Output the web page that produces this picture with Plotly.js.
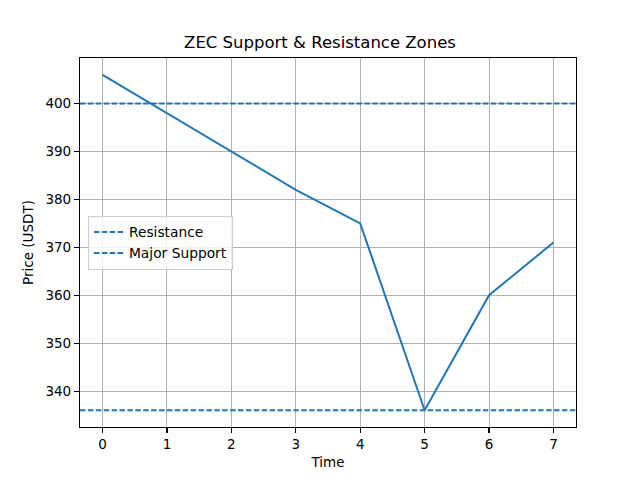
<!DOCTYPE html>
<html>
<head>
<meta charset="utf-8">
<script src="https://cdn.plot.ly/plotly-3.0.1.min.js"></script>
<style>html,body{margin:0;padding:0;background:#fff;}#chart{width:640px;height:480px;}</style>
</head>
<body>
<div id="chart"></div>
<script>
const timeSteps = [0, 1, 2, 3, 4, 5, 6, 7];
const prices = [406, 398, 390, 382, 375, 336, 360, 371];
const resistanceLevel = 400;
const majorSupportLevel = 336;
const levelNames = ["Resistance", "Major Support"];

const blue = "#1f77b4";
const xMin = Math.min(...timeSteps), xMax = Math.max(...timeSteps);
const xPad = (xMax - xMin) * 0.05;
const xRange = [xMin - xPad, xMax + xPad];
const allY = prices.concat([resistanceLevel, majorSupportLevel]);
const yMin = Math.min(...allY), yMax = Math.max(...allY);
const yPad = (yMax - yMin) * 0.05;
const yRange = [yMin - yPad, yMax + yPad];

const dash = "5.5px,2.4px";
const traces = [
  {x: timeSteps, y: prices, type: "scatter", mode: "lines", line: {color: blue, width: 2}, showlegend: false},
  {x: xRange, y: [resistanceLevel, resistanceLevel], type: "scatter", mode: "lines", name: levelNames[0], line: {color: blue, width: 2, dash: dash}},
  {x: xRange, y: [majorSupportLevel, majorSupportLevel], type: "scatter", mode: "lines", name: levelNames[1], line: {color: blue, width: 2, dash: dash}}
];

const tickFont = {family: "DejaVu Sans", size: 13.5, color: "#000"};
const layout = {
  width: 640, height: 480,
  margin: {l: 80, r: 64, t: 58, b: 53, pad: 0},
  paper_bgcolor: "#fff", plot_bgcolor: "#fff",
  font: {family: "DejaVu Sans", color: "#000"},
  title: {text: "ZEC Support & Resistance Zones", font: {family: "DejaVu Sans", size: 16.5, color: "#000"}, x: 0.5, xanchor: "center", y: 1 - 42.5/480, yanchor: "middle"},
  xaxis: {
    range: xRange, tickvals: timeSteps, ticktext: timeSteps.map(String),
    showgrid: true, gridcolor: "#b0b0b0", gridwidth: 1,
    zeroline: false, showline: true, linecolor: "#000", linewidth: 1.1, mirror: true,
    ticks: "outside", ticklen: 5, tickwidth: 1.1, tickcolor: "#000",
    tickfont: tickFont,
    title: {text: "Time", font: {family: "DejaVu Sans", size: 13.5, color: "#000"}, standoff: 6}
  },
  yaxis: {
    range: yRange, dtick: 10,
    showgrid: true, gridcolor: "#b0b0b0", gridwidth: 1,
    zeroline: false, showline: true, linecolor: "#000", linewidth: 1.1, mirror: true,
    ticks: "outside", ticklen: 5, tickwidth: 1.1, tickcolor: "#000",
    tickfont: tickFont,
    title: {text: "Price (USDT)", font: {family: "DejaVu Sans", size: 13.5, color: "#000"}, standoff: 8}
  },
  legend: {
    x: 0.016, y: 0.5, xanchor: "left", yanchor: "middle",
    bgcolor: "rgba(255,255,255,0.8)", bordercolor: "#cccccc", borderwidth: 1,
    font: {family: "DejaVu Sans", size: 13.8, color: "#000"},
    tracegroupgap: 0
  },
  showlegend: true
};
Plotly.newPlot("chart", traces, layout, {staticPlot: true, displayModeBar: false});
</script>
</body>
</html>
